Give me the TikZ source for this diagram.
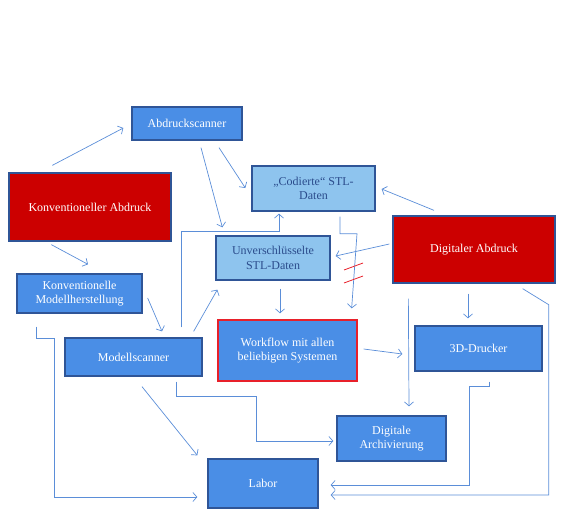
\documentclass[tikz,border=0pt]{standalone}
\usepackage{fontspec}
\setmainfont{Liberation Serif}
\usepackage{tikz}
\usetikzlibrary{positioning, arrows.meta}
\definecolor{boxblue}{HTML}{4A8EE6}
\definecolor{boxedge}{HTML}{2F5597}
\definecolor{lightbox}{HTML}{8EC4EE}
\definecolor{lighttext}{HTML}{2B4C8C}
\definecolor{boxred}{HTML}{CC0000}
\definecolor{edgered}{HTML}{E8202A}
\definecolor{linkblue}{HTML}{5B8ED8}
\tikzset{
  box/.style={draw=boxedge, line width=1.3pt, fill=boxblue, text=white, align=center,
    inner sep=2pt, font=\fontsize{12}{14.5}\selectfont},
  lightbox/.style={box, fill=lightbox, text=lighttext},
  redbox/.style={box, fill=boxred},
  link/.style={->, draw=linkblue, line width=0.7pt},
}
\begin{document}
\begin{tikzpicture}[x=1pt, y=-1pt, >={Straight Barb[length=4pt,width=9pt]}]
\useasboundingbox (0,0) rectangle (583,527);
% boxes
\node[box, minimum width=110, minimum height=33] (abdr) at (187,123.5) {Abdruckscanner};
\node[redbox, minimum width=162, minimum height=68] (konv) at (90,207) {Konventioneller Abdruck};
\node[lightbox, minimum width=123, minimum height=45] (cod) at (313.5,188.5) {„Codierte“ STL-\\Daten};
\node[redbox, minimum width=162, minimum height=67] (dig) at (474,249.5) {Digitaler Abdruck};
\node[lightbox, minimum width=114, minimum height=44] (unv) at (273,258) {Unverschlüsselte\\STL-Daten};
\node[box, draw=edgered, minimum width=139, minimum height=61] (work) at (287.5,350.5) {Workflow mit allen\\beliebigen Systemen};
\node[box, minimum width=127, minimum height=45] (druck) at (478.5,348.5) {3D-Drucker};
\node[box, minimum width=109, minimum height=45] (arch) at (391.5,438.5) {Digitale\\Archivierung};
\node[box, minimum width=110, minimum height=49] (labor) at (263,483.5) {Labor};
\node[box, minimum width=137, minimum height=38] (mscan) at (133.5,357) {Modellscanner};
\node[box, minimum width=125, minimum height=39] (kmod) at (79.5,293.5) {Konventionelle\\Modellherstellung};
% links
\draw[link] ([shift={(44,-7)}]konv.north west) -- ([shift={(-8,4.5)}]abdr.west);
\draw[link] ([shift={(32,7)}]abdr.south) -- ([shift={(-6,-0.5)}]cod.west);
\draw[link] ([shift={(14,7)}]abdr.south) -- ([shift={(7,-8)}]unv.north west);
\draw[link] ([shift={(43,3)}]konv.south west) -- ([shift={(8.5,-9)}]kmod.north);
\draw[link] ([shift={(47.5,-10)}]mscan.north) -- ++(0,-96) -| ([shift={(-34.5,2)}]cod.south);
\draw[link] ([shift={(-9,-6)}]mscan.north east) -- ([shift={(2,9)}]unv.south west);
\draw[link] ([shift={(5,4.5)}]kmod.east) -- ([shift={(28.5,-6)}]mscan.north);
\draw[link] ([shift={(-40,-5)}]dig.north) -- ([shift={(6,0.5)}]cod.east);
\draw[link] ([shift={(-3,-5.5)}]dig.west) -- ([shift={(5,-2)}]unv.east);
\draw[link] ([shift={(26.5,5)}]cod.south) -- ++(0,17) -- ++(17,0) -- ([shift={(-6,-11)}]work.north east);
\draw[link] ([shift={(7,8)}]unv.south) -- ([shift={(-7.5,-6)}]work.north);
\draw[link] ([shift={(-6,10)}]dig.south) -- ([shift={(-10.5,-7)}]druck.north);
\draw[link] ([shift={(16,15)}]dig.south west) -- ([shift={(17.5,-9)}]arch.north);
\draw[link] ([shift={(6,-1.5)}]work.east) -- ([shift={(-12,5.5)}]druck.west);
\draw[link] ([shift={(-33,5)}]dig.south east) -- ++(26,16) |- ([shift={(12,11.5)}]labor.east);
\draw[link] ([shift={(10.5,10)}]druck.south) -- ++(0,5) -- ++(-20,0) |- ([shift={(12,1.5)}]labor.east);
\draw[link] ([shift={(42.5,5)}]mscan.south) -- ++(0,15) -- ++(80,0) |- ([shift={(-3,2.5)}]arch.west);
\draw[link] ([shift={(8.5,10)}]mscan.south) -- ([shift={(-10,-3)}]labor.north west);
\draw[link] ([shift={(20,13)}]kmod.south west) -- ++(0,12) -- ++(18,0) |- ([shift={(-10,13.5)}]labor.west);
% strikes
\draw[edgered, line width=0.8pt] (344,270) -- (363,263);
\draw[edgered, line width=0.8pt] (344,283) -- (363,276);
\end{tikzpicture}
\end{document}
